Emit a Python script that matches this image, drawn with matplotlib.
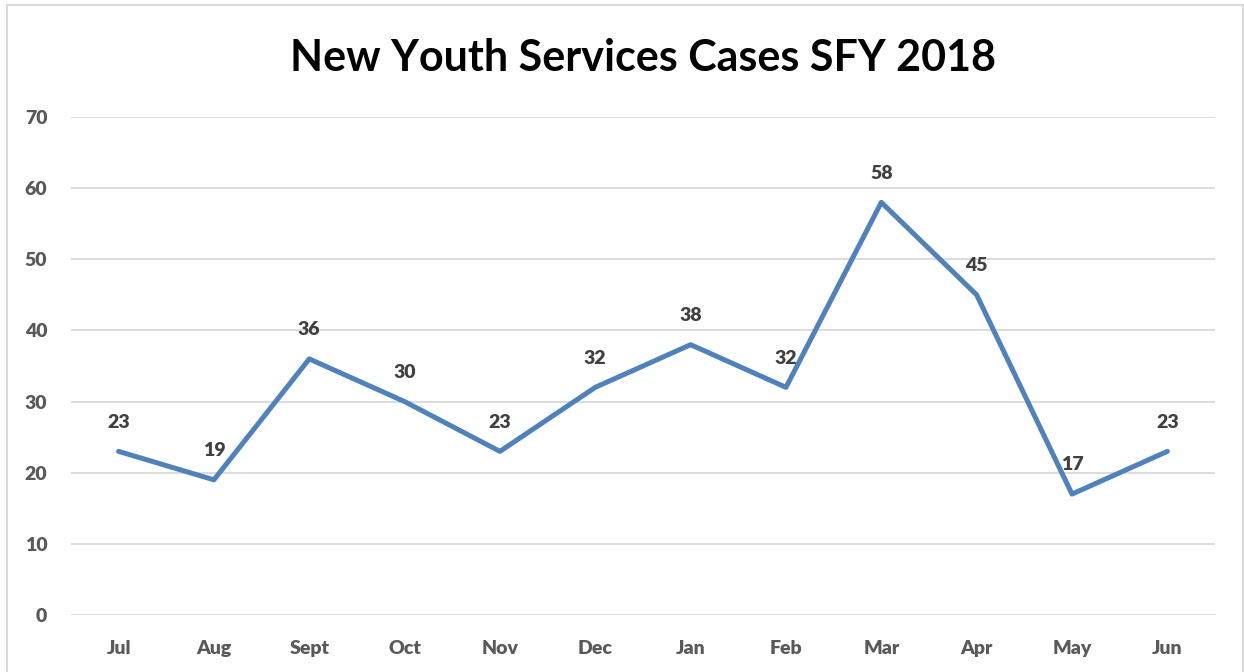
import matplotlib.pyplot as plt
from matplotlib.patches import Rectangle

months = ['Jul', 'Aug', 'Sept', 'Oct', 'Nov', 'Dec', 'Jan', 'Feb', 'Mar', 'Apr', 'May', 'Jun']
cases = [23, 19, 36, 30, 23, 32, 38, 32, 58, 45, 17, 23]
y_ticks = [0, 10, 20, 30, 40, 50, 60, 70]

plt.rcParams['font.family'] = ['Lato', 'DejaVu Sans']

fig = plt.figure(figsize=(12.44, 6.72), dpi=100)
ax = fig.add_axes([0.057, 0.0848, 0.9197, 0.7411])

x = list(range(len(months)))
ax.plot(x, cases, color='#4F81BD', linewidth=3.6, solid_joinstyle='round', solid_capstyle='round')

for xi, v in zip(x, cases):
    ax.annotate(str(v), (xi, v), xytext=(0, 15), textcoords='offset points',
                ha='center', va='bottom', fontsize=14, fontweight='heavy', color='#404040')

ax.set_xlim(-0.5, len(months) - 0.5)
ax.set_ylim(0, 70)
ax.set_yticks(y_ticks)
ax.set_xticks(x)
ax.set_xticklabels(months)
ax.grid(axis='y', color='#D9D9D9', linewidth=1.3)
ax.set_axisbelow(True)
for s in ax.spines.values():
    s.set_visible(False)
ax.tick_params(length=0, labelsize=14, labelcolor='#595959')
ax.tick_params(axis='x', pad=18)
ax.tick_params(axis='y', pad=17)
for lbl in ax.get_xticklabels() + ax.get_yticklabels():
    lbl.set_fontweight('heavy')

fig.text(0.517, 0.913, 'New Youth Services Cases SFY 2018', ha='center', va='center',
         fontsize=31, fontweight='bold', color='black')

fig.patches.append(Rectangle((7 / 1244, -0.05), 1236 / 1244, 1.05 - 5 / 672,
                             transform=fig.transFigure, fill=False,
                             edgecolor='#D9D9D9', linewidth=1.5))

fig.savefig('out.png', dpi=100)
